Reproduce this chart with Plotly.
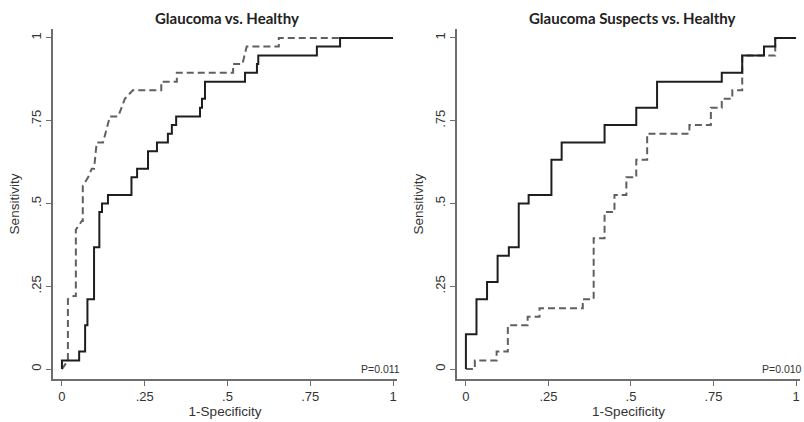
import plotly.graph_objects as go

# ---- data ----
# Left panel: Glaucoma vs. Healthy
gh_solid_fpr = [0, 0, 0.052, 0.070, 0.077, 0.097, 0.113, 0.121, 0.139, 0.210, 0.227, 0.260,
                0.287, 0.320, 0.332, 0.345, 0.417, 0.423, 0.432, 0.553, 0.589, 0.593, 0.770,
                0.840, 1.0]
gh_solid_tpr = [0, 0.026, 0.053, 0.132, 0.211, 0.368, 0.474, 0.500, 0.526, 0.579, 0.605, 0.658,
                0.684, 0.711, 0.737, 0.763, 0.789, 0.816, 0.868, 0.895, 0.921, 0.947, 0.974,
                1.0, 1.0]

gh_dash_fpr = [0, 0.018, 0.018, 0.036, 0.042, 0.042, 0.060, 0.063, 0.063, 0.079, 0.090, 0.097,
               0.105, 0.124, 0.145, 0.170, 0.190, 0.214, 0.300, 0.300, 0.347, 0.347, 0.517,
               0.517, 0.529, 0.545, 0.558, 0.655, 0.655, 1.0]
gh_dash_tpr = [0, 0.026, 0.211, 0.221, 0.221, 0.421, 0.447, 0.447, 0.553, 0.579, 0.605, 0.605,
               0.684, 0.684, 0.763, 0.763, 0.816, 0.842, 0.842, 0.868, 0.868, 0.895, 0.895,
               0.921, 0.921, 0.921, 0.974, 0.974, 1.0, 1.0]

# Right panel: Glaucoma Suspects vs. Healthy
sh_solid_fpr = [0, 0, 0.032, 0.064, 0.096, 0.130, 0.160, 0.190, 0.259, 0.290, 0.420, 0.516,
                0.579, 0.775, 0.837, 0.903, 0.937, 1.0]
sh_solid_tpr = [0, 0.105, 0.211, 0.263, 0.342, 0.368, 0.500, 0.526, 0.632, 0.684, 0.737, 0.789,
                0.868, 0.895, 0.947, 0.974, 1.0, 1.0]

sh_dash_fpr = [0, 0.027, 0.093, 0.127, 0.187, 0.223, 0.354, 0.387, 0.420, 0.450, 0.486, 0.516,
               0.549, 0.677, 0.742, 0.775, 0.807, 0.837, 0.937, 0.937, 1.0]
sh_dash_tpr = [0, 0.026, 0.053, 0.132, 0.158, 0.184, 0.211, 0.395, 0.474, 0.526, 0.579, 0.632,
               0.711, 0.737, 0.789, 0.816, 0.842, 0.947, 0.974, 1.0, 1.0]

titles = ["Glaucoma vs. Healthy", "Glaucoma Suspects vs. Healthy"]
p_values = ["P=0.011", "P=0.010"]
tick_vals = [0, 0.25, 0.5, 0.75, 1]
tick_text = ["0", ".25", ".5", ".75", "1"]

W, H = 804, 422
SOLID = "#1e1e1e"
DASHC = "#606060"
AXC = "#6e6e6e"
TXT = "#333333"
FONT = "Liberation Sans, Arial"

fig = go.Figure()

def add_panel(i, sx, sy, dx, dy):
    xa = "x" if i == 0 else "x2"
    ya = "y" if i == 0 else "y2"
    fig.add_trace(go.Scatter(x=dx, y=dy, mode="lines", xaxis=xa, yaxis=ya,
                             line=dict(color=DASHC, width=2, dash="7px,4px",
                                       shape="linear" if i == 0 else "hv"),
                             showlegend=False, hoverinfo="skip"))
    fig.add_trace(go.Scatter(x=sx, y=sy, mode="lines", xaxis=xa, yaxis=ya,
                             line=dict(color=SOLID, width=2, shape="hv"),
                             showlegend=False, hoverinfo="skip"))

add_panel(0, gh_solid_fpr, gh_solid_tpr, gh_dash_fpr, gh_dash_tpr)
add_panel(1, sh_solid_fpr, sh_solid_tpr, sh_dash_fpr, sh_dash_tpr)

xr = [-0.027, 1.012]
yr = [-0.030, 1.027]
ydom = [43 / H, 393 / H]

common_x = dict(range=xr, showgrid=False, zeroline=False, showline=True, linecolor=AXC,
                linewidth=1.5, ticks="outside", ticklen=5, tickwidth=1.2, tickcolor=AXC,
                tickvals=tick_vals, ticktext=tick_text,
                tickfont=dict(family=FONT, size=13, color=TXT),
                title=dict(text="1-Specificity", standoff=2,
                           font=dict(family=FONT, size=13.5, color=TXT)))
common_y = dict(range=yr, domain=ydom, showgrid=False, zeroline=False, showline=True,
                linecolor=AXC, linewidth=1.5, ticks="outside", ticklen=5, tickwidth=1.2,
                tickcolor=AXC, tickvals=tick_vals, ticktext=tick_text, tickangle=-90,
                tickfont=dict(family=FONT, size=13, color=TXT),
                title=dict(text="Sensitivity", standoff=6,
                           font=dict(family=FONT, size=13.5, color=TXT)))

fig.update_layout(
    width=W, height=H, margin=dict(l=0, r=0, t=0, b=0),
    paper_bgcolor="white", plot_bgcolor="white",
    xaxis=dict(common_x, domain=[53 / W, 397 / W], anchor="y"),
    yaxis=dict(common_y, anchor="x"),
    xaxis2=dict(common_x, domain=[457 / W, 800 / W], anchor="y2"),
    yaxis2=dict(common_y, anchor="x2"),
)

centers = [227 / W, 632 / W]
p_shift = [5, 4]
for i in range(2):
    fig.add_annotation(text="<b>%s</b>" % titles[i], xref="paper", yref="paper",
                       x=centers[i], y=(H - 18) / H, xanchor="center", yanchor="middle",
                       showarrow=False,
                       font=dict(family="Lato, Open Sans", size=15, color="#222222"))
    fig.add_annotation(text=p_values[i], xref="x domain" if i == 0 else "x2 domain",
                       yref="y" if i == 0 else "y2", x=1, y=0, xanchor="right",
                       yanchor="middle", xshift=p_shift[i], showarrow=False,
                       font=dict(family=FONT, size=10.5, color=TXT))

fig.write_html("out.html", config={"displayModeBar": False},
               post_script="document.body.style.margin='0';document.body.style.padding='0';")
